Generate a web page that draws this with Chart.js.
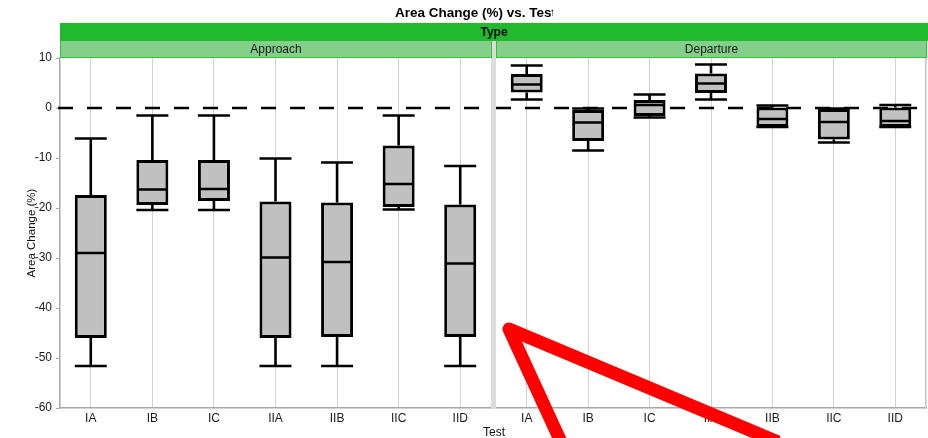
<!DOCTYPE html>
<html>
<head>
<meta charset="utf-8">
<script src="https://cdn.jsdelivr.net/npm/chart.js@4.4.1/dist/chart.umd.min.js"></script>
<style>
  html, body { margin: 0; padding: 0; background: #fff; }
  #wrap { position: relative; width: 928px; height: 438px; overflow: hidden; background: #fff;
          font-family: "Liberation Sans", Arial, Helvetica, sans-serif; color: #111; }
  canvas { position: absolute; top: 0; }
  #approach { left: 0; }
  #departure { left: 496px; }
  #title { position: absolute; left: 395px; top: 5px; width: 158px; overflow: hidden; white-space: nowrap;
           font-weight: bold; font-size: 13.5px; line-height: 16px; color: #000; }
  #typeBar { position: absolute; left: 60px; top: 23px; width: 868px; height: 18px; background: #21ba2f;
             font-weight: bold; font-size: 12px; line-height: 18px; text-align: center; color: #111; }
  .strip { position: absolute; top: 41px; height: 16px; background: #84cf8a; border: 1px solid #33c140;
           border-top: none; font-size: 12px; line-height: 16px; text-align: center; color: #1a1a1a; box-sizing: content-box; }
  #stripA { left: 60px; width: 430px; }
  #stripD { left: 496px; width: 429px; }
  #gap { position: absolute; left: 491px; top: 41px; width: 5px; height: 368px; background: #dcdcdc; }
  #xTitle { position: absolute; left: 0; width: 988px; top: 425px; font-size: 12px; line-height: 14px; text-align: center; color: #111; }
  #pointer { position: absolute; left: 0; top: 0; }
</style>
</head>
<body>
<div id="wrap">
  <canvas id="approach" width="491" height="438"></canvas>
  <canvas id="departure" width="432" height="438"></canvas>
  <div id="gap"></div>
  <div id="title">Area Change (%) vs. Test</div>
  <div id="typeBar">Type</div>
  <div class="strip" id="stripA"></div>
  <div class="strip" id="stripD"></div>
  <div id="xTitle">Test</div>
  <svg id="pointer" width="928" height="438">
    <polyline points="561,442 509,329 778,442" fill="none" stroke="#ff0000" stroke-width="13"
              stroke-linejoin="round" stroke-linecap="butt"/>
  </svg>
</div>
<script>
// Test categories along each panel
const tests = ['IA', 'IB', 'IC', 'IIA', 'IIB', 'IIC', 'IID'];
const panelNames = ['Approach', 'Departure'];
const yTicks = [10, 0, -10, -20, -30, -40, -50, -60];

// Approach: five-number summaries of area change (%)
const approachMin    = [-51.6, -20.4, -20.4, -51.6, -51.6, -20.3, -51.6];
const approachQ1     = [-46.0, -19.4, -18.6, -46.0, -45.8, -19.8, -45.8];
const approachMedian = [-29.0, -16.3, -16.2, -29.9, -30.8, -15.2, -31.1];
const approachQ3     = [-17.4, -10.4, -10.4, -18.7, -18.9, -7.5, -19.3];
const approachMax    = [-6.1, -1.5, -1.5, -10.1, -10.9, -1.5, -11.6];

// Departure: five-number summaries of area change (%)
const departureMin    = [1.7, -8.5, -1.9, 1.7, -3.8, -6.9, -3.8];
const departureQ1     = [3.1, -6.6, -1.6, 3.0, -3.8, -6.3, -3.8];
const departureMedian = [4.7, -2.9, 0.6, 4.9, -2.2, -2.8, -2.6];
const departureQ3     = [6.8, -0.4, 1.6, 6.9, 0.1, -0.2, 0.1];
const departureMax    = [8.5, -0.1, 2.7, 8.7, 0.5, -0.1, 0.6];

document.getElementById('stripA').textContent = panelNames[0];
document.getElementById('stripD').textContent = panelNames[1];

const FONT = '"Liberation Sans", Arial, Helvetica, sans-serif';
const AXIS_GREY = '#a8a8a8';

// Dashed reference line at zero, drawn beneath the boxes
function zeroLinePlugin(startOffset) {
  return {
    id: 'zeroLine',
    beforeDatasetsDraw(chart) {
      const { ctx, chartArea } = chart;
      const y = Math.round(chart.scales.y.getPixelForValue(0));
      ctx.save();
      ctx.strokeStyle = '#000';
      ctx.lineWidth = 2.5;
      ctx.setLineDash([15, 14]);
      ctx.beginPath();
      ctx.moveTo(chartArea.left - startOffset, y);
      ctx.lineTo(chartArea.right, y);
      ctx.stroke();
      ctx.restore();
    }
  };
}

// Whiskers, caps and median line for every box
function whiskerPlugin(mins, medians, maxs) {
  return {
    id: 'whiskers',
    afterDatasetsDraw(chart) {
      const { ctx } = chart;
      const yScale = chart.scales.y;
      const meta = chart.getDatasetMeta(0);
      ctx.save();
      ctx.strokeStyle = '#000';
      ctx.lineWidth = 2.6;
      ctx.lineCap = 'butt';
      meta.data.forEach((bar, i) => {
        const { x, y, base, width } = bar.getProps(['x', 'y', 'base', 'width'], true);
        const half = width / 2;
        const top = Math.min(y, base);
        const bottom = Math.max(y, base);
        const yMax = yScale.getPixelForValue(maxs[i]);
        const yMin = yScale.getPixelForValue(mins[i]);
        const yMed = yScale.getPixelForValue(medians[i]);
        ctx.beginPath();
        // upper whisker and cap
        ctx.moveTo(x, top); ctx.lineTo(x, yMax);
        ctx.moveTo(x - half, yMax); ctx.lineTo(x + half, yMax);
        // lower whisker and cap
        ctx.moveTo(x, bottom); ctx.lineTo(x, yMin);
        ctx.moveTo(x - half, yMin); ctx.lineTo(x + half, yMin);
        // median
        ctx.moveTo(x - half + 1, yMed); ctx.lineTo(x + half - 1, yMed);
        ctx.stroke();
      });
      ctx.restore();
    }
  };
}

function boxDataset(q1, q3) {
  return {
    data: q1.map((v, i) => [v, q3[i]]),
    backgroundColor: '#c0c0c0',
    borderColor: '#000',
    borderWidth: 3,
    borderSkipped: false,
    barPercentage: 0.52,
    categoryPercentage: 1.0
  };
}

function xScale() {
  return {
    type: 'category',
    offset: true,
    grid: { display: true, offset: false, color: '#d2d2d2', lineWidth: 1, drawTicks: false },
    border: { display: true, color: AXIS_GREY, width: 1.5 },
    ticks: { color: '#1a1a1a', font: { family: FONT, size: 12 }, padding: 3, maxRotation: 0, autoSkip: false },
    afterFit(s) { s.height = 30; }
  };
}

const common = {
  responsive: false,
  animation: false,
  devicePixelRatio: 1,
  events: [],
  plugins: { legend: { display: false }, tooltip: { enabled: false }, title: { display: false } }
};

// Approach panel carries the value axis
new Chart(document.getElementById('approach'), {
  type: 'bar',
  data: { labels: tests, datasets: [boxDataset(approachQ1, approachQ3)] },
  options: Object.assign({}, common, {
    layout: { padding: { top: 58, right: 0, bottom: 0, left: 0 } },
    scales: {
      x: xScale(),
      y: {
        type: 'linear',
        min: -60,
        max: 10,
        afterBuildTicks(s) { s.ticks = yTicks.map(v => ({ value: v })); },
        ticks: { color: '#1a1a1a', font: { family: FONT, size: 12 }, padding: 4 },
        grid: { drawOnChartArea: false, drawTicks: true, tickLength: 4, color: AXIS_GREY },
        border: { display: true, color: AXIS_GREY, width: 1.5 },
        title: { display: true, text: 'Area Change (%)', color: '#111',
                 font: { family: FONT, size: 11.5 }, padding: { top: 25, bottom: 0 } },
        afterFit(s) { s.width = 60; }
      }
    }
  }),
  plugins: [zeroLinePlugin(2), whiskerPlugin(approachMin, approachMedian, approachMax)]
});

// Departure panel shares the same value range
new Chart(document.getElementById('departure'), {
  type: 'bar',
  data: { labels: tests, datasets: [boxDataset(departureQ1, departureQ3)] },
  options: Object.assign({}, common, {
    layout: { padding: { top: 58, right: 0, bottom: 0, left: 0 } },
    scales: {
      x: xScale(),
      y: { type: 'linear', min: -60, max: 10, display: false },
      edge: {
        type: 'linear', position: 'right', min: -60, max: 10,
        ticks: { display: false },
        grid: { display: false, drawTicks: false },
        border: { display: true, color: '#c4c4c4', width: 1.5 },
        afterFit(s) { s.width = 2; }
      }
    }
  }),
  plugins: [zeroLinePlugin(0), whiskerPlugin(departureMin, departureMedian, departureMax)]
});
</script>
</body>
</html>
